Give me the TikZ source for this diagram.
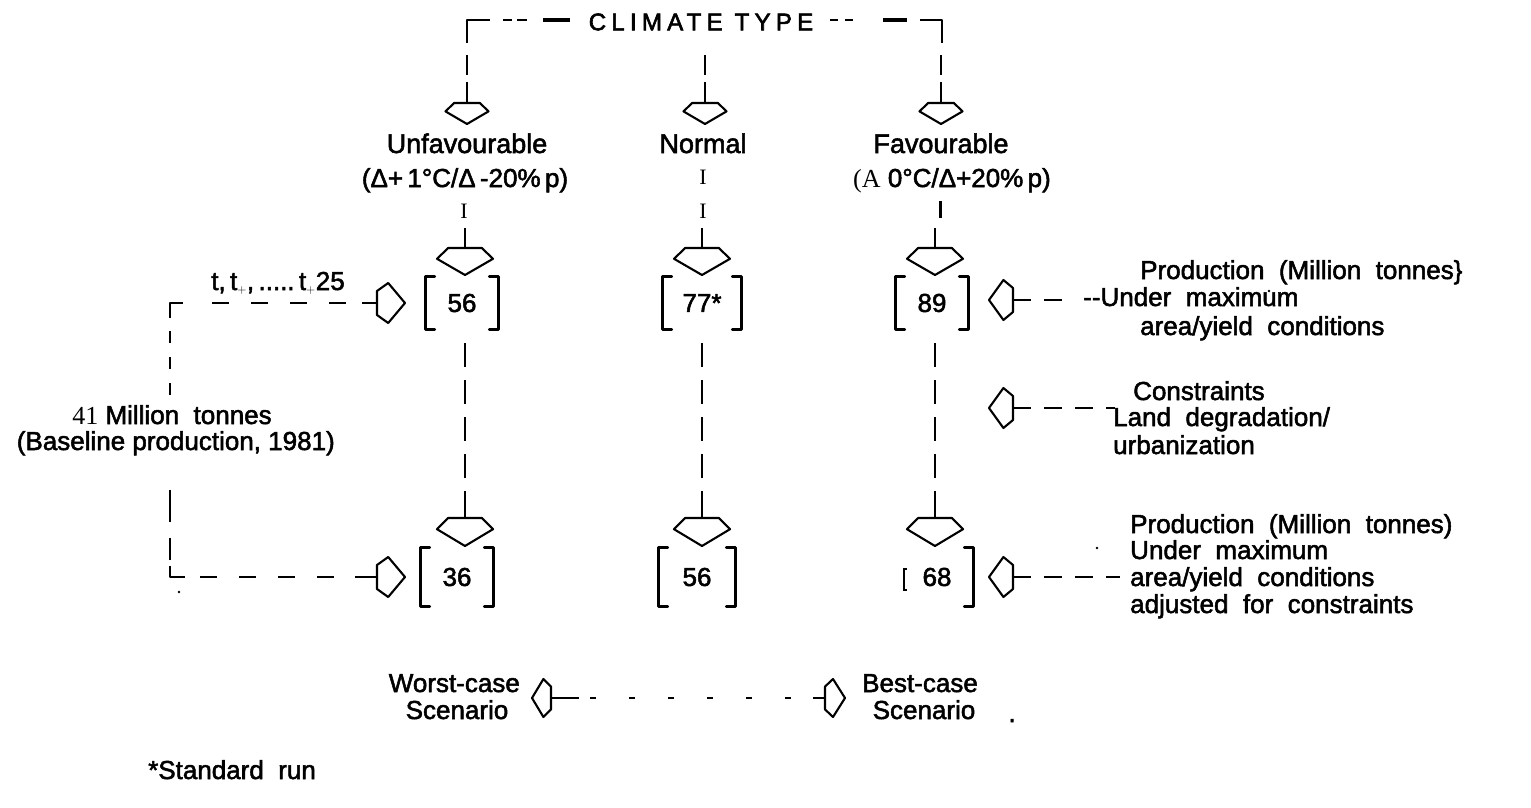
\documentclass[tikz,border=0pt]{standalone}
\usepackage{fontspec}
\setmainfont{Liberation Sans}
\newfontfamily\lbfont{Liberation Sans}[FakeBold=2]
\newfontfamily\ttlfont{Liberation Sans}[FakeBold=2.5,LetterSpace=22]
\newfontfamily\serifont{Liberation Serif}
\newcommand\lf{\lbfont\fontsize{26}{28}\selectfont}
\newcommand\lfbig{\lbfont\fontsize{27}{29}\selectfont}
\begin{document}
\begin{tikzpicture}[x=1pt,y=-1pt,
  lbl/.style={inner sep=0pt, font=\lf},
  clbl/.style={inner sep=0pt, font=\lfbig},
  ttl/.style={inner sep=0pt, font=\ttlfont\fontsize{24}{26}\selectfont},
  numbox/.style={inner sep=0pt, font=\lf, minimum width=72pt, minimum height=53pt},
  brk/.style={line width=2.7pt, line cap=round, line join=round},
  thickln/.style={line width=2.7pt},
  thinln/.style={line width=1.2pt},
  vdash/.style={line width=2.7pt, dash pattern=on 24pt off 13pt},
  hdash/.style={line width=2.7pt, dash pattern=on 17pt off 22pt},
  sdash/.style={line width=2.7pt, dash pattern=on 18pt off 13pt},
  fdash/.style={line width=2pt, dash pattern=on 6pt off 33pt},
  pics/harr/.style 2 args={code={
    \draw[line width=2.1pt, line join=round, fill=white]
      (0,-0.3*#2) -- (0,0.3*#2) -- (0.4*#1,0.5*#2) -- (#1,0) -- (0.4*#1,-0.5*#2) -- cycle;
  }}
]
\useasboundingbox (0,0) rectangle (1531,808);

% ---------- title and top bracket
\node[ttl] (title) at (701,22) {CLIMATE\hspace{12pt}TYPE};
\coordinate (tl) at (467,20);
\coordinate (tr) at (942,20);
\draw[thickln, line join=round] (467,43) -- (tl) -- (490,20);
\draw[thickln] (503,20) -- (512,20);
\draw[thickln] (517,20) -- (527,20);
\draw[line width=3.6pt] (543,20) -- (570,20);
\draw[thickln] (830,20) -- (838,20);
\draw[thickln] (845,20) -- (853,20);
\draw[line width=3.6pt] (883,20) -- (907,20);
\draw[thickln, line join=round] (920,20) -- (tr) -- (942,43);

% stems to small arrows
\foreach \x in {467,705,941}{
  \draw[thinln] (\x,55) -- (\x,75);
  \draw[line width=2.4pt] (\x,82) -- (\x,103);
  \pic[rotate=-90] at (\x,103) {harr={21}{43}};
}

% ---------- climate labels
\node[clbl, anchor=base] (unf) at (467,153) {Unfavourable};
\node[clbl, anchor=base] (nor) at (703,153) {Normal};
\node[clbl, anchor=base] (fav) at (941,153) {Favourable};
\node[lbl, anchor=base] (unfc) at (465,187) {(Δ+\,1°C/Δ\,-20\%\,p)};
\node[lbl, anchor=base] (favc) at (952,187) {{\serifont (A} 0°C/Δ+20\%\,p)};

% small I marks
\node[inner sep=0pt, font=\serifont\fontsize{22}{24}\selectfont, anchor=base] (i1) at (464,218) {I};
\node[inner sep=0pt, font=\serifont\fontsize{22}{24}\selectfont, anchor=base] (i2) at (703,184) {I};
\node[inner sep=0pt, font=\serifont\fontsize{22}{24}\selectfont, anchor=base] (i3) at (703,218) {I};
\draw[line width=3pt] (940,201) -- (940,218);

% ---------- big arrows to upper boxes
\foreach \x in {465,702,935}{
  \draw[line width=2.4pt] (\x,228) -- (\x,248);
  \pic[rotate=-90] at (\x,248) {harr={27}{56}};
}

% upper boxes
\node[numbox] (b56) at (462,303) {56};
\node[numbox, minimum width=78pt] (b77) at (702,303) {77*};
\node[numbox] (b89) at (932,303) {89};
% lower boxes
\node[numbox, minimum height=58pt] (b36) at (457,577) {36};
\node[numbox, minimum height=58pt, minimum width=76pt] (b56b) at (697,577) {56};
\node[numbox, minimum height=58pt] (b68) at (937,577) {68};

\foreach \b in {b56,b77,b89,b36,b56b}{
  \draw[brk] ([xshift=9pt]\b.north west) -- (\b.north west) -- (\b.south west) -- ([xshift=9pt]\b.south west);
  \draw[brk] ([xshift=-9pt]\b.north east) -- (\b.north east) -- (\b.south east) -- ([xshift=-9pt]\b.south east);
}
\draw[brk] ([xshift=-9pt]b68.north east) -- (b68.north east) -- (b68.south east) -- ([xshift=-9pt]b68.south east);
\draw[line width=2pt] (907,569) -- (904,569) -- (904,590) -- (907,590);

% vertical dashed connectors to lower arrows
\foreach \x in {465,702,935}{
  \draw[vdash] (\x,343) -- (\x,512);
  \draw[line width=2.4pt] (\x,505) -- (\x,518);
  \pic[rotate=-90] at (\x,518) {harr={28}{56}};
}

% ---------- left path (baseline)
\coordinate (c1) at (170,303);
\coordinate (c2) at (170,577);
\draw[line width=2.7pt, line join=round] (170,318) -- (c1) -- (183,303);
\draw[hdash] (212,303) -- (362,303);
\draw[line width=2.4pt] (362,303) -- (377,303);
\pic at (377,303) {harr={28}{40}};
\node[lbl, anchor=base] (tl25) at (278,290) {t,\,t$_{\scriptscriptstyle +}$,\,.....\,t$_{\scriptscriptstyle +}$25};
\draw[line width=2.7pt, dash pattern=on 12pt off 14pt] (170,331) -- (170,398);
\node[lbl, anchor=base] (mt) at (172,424) {{\serifont 41} Million\ \ tonnes};
\node[lbl, anchor=base east] (bl) at (335,450) {(Baseline production, 1981)};
\draw[line width=2.7pt] (170,490) -- (170,522);
\draw[thinln] (170,538) -- (170,560);
\draw[line width=2.7pt, line join=round] (170,566) -- (c2) -- (185,577);
\draw[hdash] (200,577) -- (362,577);
\draw[line width=2.4pt] (355,577) -- (377,577);
\pic at (377,577) {harr={28}{40}};

% ---------- right-hand side annotations
\pic[rotate=180] at (1013,300) {harr={24}{40}};
\draw[sdash] (1013,300) -- (1072,300);
\node[lbl, anchor=base west] (r1a) at (1140,279) {Production\ \ (Million\ \ tonnes\}};
\node[lbl, anchor=base west] (r1b) at (1083,306) {-{}-Under\ \ maximum};
\node[lbl, anchor=base west] (r1c) at (1140,335) {area/yield\ \ conditions};

\pic[rotate=180] at (1013,408) {harr={24}{40}};
\draw[sdash] (1013,408) -- (1115,408);
\node[lbl, anchor=base west] (r2a) at (1133,400) {Constraints};
\node[lbl, anchor=base west] (r2b) at (1113,426) {Land\ \ degradation/};
\node[lbl, anchor=base west] (r2c) at (1113,454) {urbanization};

\pic[rotate=180] at (1013,577) {harr={24}{40}};
\draw[sdash] (1013,577) -- (1120,577);
\node[lbl, anchor=base west] (r3a) at (1130,533) {Production\ \ (Million\ \ tonnes)};
\node[lbl, anchor=base west] (r3b) at (1130,559) {Under\ \ maximum};
\node[lbl, anchor=base west] (r3c) at (1130,586) {area/yield\ \ conditions};
\node[lbl, anchor=base west] (r3d) at (1130,613) {adjusted\ \ for\ \ constraints};

% ---------- scenarios
\node[lbl, anchor=base east] (w1) at (520,692) {Worst-case};
\node[lbl, anchor=base] (w2) at (457,719) {Scenario};
\node[lbl, anchor=base west] (s1) at (862,692) {Best-case};
\node[lbl, anchor=base] (s2) at (924,719) {Scenario};
\node[lbl, anchor=base] (dot) at (1012,722) {.};
\coordinate (wa) at (551,698);
\coordinate (ba) at (825,698);
\pic[rotate=180] at (wa) {harr={19}{38}};
\draw[line width=2.7pt] (wa) -- (579,698);
\draw[fdash] (590,698) -- (800,698);
\draw[line width=2.7pt] (813,698) -- (ba);
\pic at (ba) {harr={20}{38}};

% footnote
\node[lbl, anchor=base west] (std) at (148,779) {*Standard\ \ run};

% specks
\fill (1269,291) circle (1.4pt);
\fill (1097,548) circle (1.4pt);
\fill (179,592) circle (1.4pt);
\end{tikzpicture}
\end{document}
